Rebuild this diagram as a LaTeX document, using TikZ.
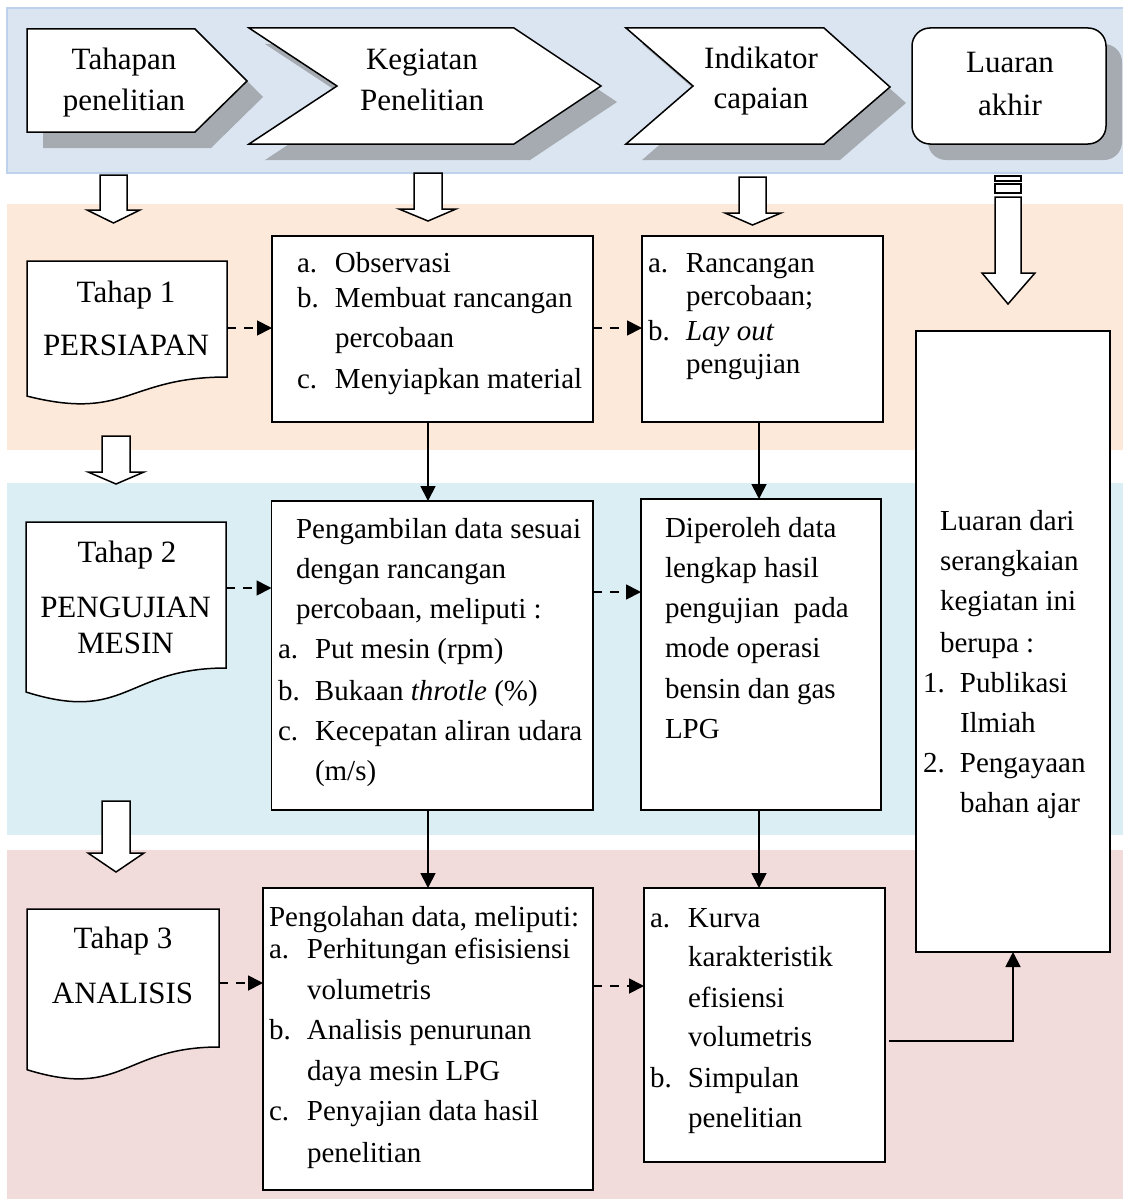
\documentclass[tikz,border=0pt]{standalone}
\usepackage{fontspec}
\setmainfont{Liberation Serif}
\usetikzlibrary{arrows.meta,calc}
\definecolor{bandtop}{RGB}{219,229,241}
\definecolor{bandtopline}{RGB}{190,210,238}
\definecolor{bandpeach}{RGB}{253,233,217}
\definecolor{bandblue}{RGB}{218,238,243}
\definecolor{bandpink}{RGB}{242,220,219}
\definecolor{shadowc}{RGB}{166,170,177}
\newcounter{lnc}
% left-aligned text line at baseline
\newcommand\Ln[3]{\stepcounter{lnc}\node[txt,anchor=base west] (L\arabic{lnc}) at (#1,#2) {#3};}
% centred big text line at baseline
\newcommand\Lc[3]{\stepcounter{lnc}\node[big,anchor=base] (L\arabic{lnc}) at (#1,#2) {#3};}
% list item: label x, text x, baseline, label, text
\newcommand\Li[5]{\stepcounter{lnc}\pgfmathsetlengthmacro\lblw{#2-#1}\node[txt,anchor=base west] (L\arabic{lnc}) at (#1,#3) {\makebox[\lblw][l]{#4}#5};}
% down block arrow: xl xr ytop yhead hxl hxr ytip
\newcommand\DownArrow[7]{\draw[blk] (#1,#3) -- (#2,#3) -- (#2,#4) -- (#6,#4) -- ({(#1+#2)/2},#7) -- (#5,#4) -- (#1,#4) -- cycle;}
\begin{document}
\begin{tikzpicture}[x=1pt,y=-1pt,
  txt/.style={font=\fontsize{29}{35}\selectfont, inner sep=0pt, outer sep=0pt},
  big/.style={font=\fontsize{31}{37}\selectfont, inner sep=0pt, outer sep=0pt},
  box/.style={draw=black, line width=1.8pt, fill=white, inner sep=0pt, outer sep=0pt, anchor=north west},
  ghost/.style={draw=none, inner sep=0pt, outer sep=0pt, anchor=north west},
  blk/.style={draw=black, line width=1.5pt, fill=white, line join=miter},
  hdr/.style={draw=black, line width=1.5pt, fill=white, line join=miter},
  shade/.style={fill=shadowc, draw=none},
  arr/.style={draw=black, line width=1.8pt, -{Triangle[length=15pt,width=15pt]}},
  darr/.style={arr, dash pattern=on 9pt off 8pt},
]
\useasboundingbox (0,0) rectangle (1123,1199);
% bands
\fill[bandtop, draw=bandtopline, line width=1.5pt] (7,8) rectangle (1135,173);
\fill[bandpeach] (7,204) rectangle (1135,450);
\fill[bandblue] (7,483) rectangle (1135,835);
\fill[bandpink] (7,850) rectangle (1135,1210);

% header shapes: shadows
\fill[shade] (43,45) -- (211,45) -- (263,97) -- (211,148) -- (43,148) -- cycle;
\fill[shade] (265,44) -- (530,44) -- (617,102) -- (530,160) -- (265,160) -- (353,102) -- cycle;
\fill[shade] (642,44) -- (840,44) -- (906,103) -- (840,160) -- (642,160) -- (709,102) -- cycle;
\fill[shade, rounded corners=18pt] (928,44) rectangle (1122,160);
% header shapes
\draw[hdr] (27,29) -- (195,29) -- (247,81) -- (195,132) -- (27,132) -- cycle;
\draw[hdr] (249,28) -- (514,28) -- (601,86) -- (514,144) -- (249,144) -- (337,86) -- cycle;
\draw[hdr] (626,28) -- (824,28) -- (890,87) -- (824,144) -- (626,144) -- (693,86) -- cycle;
\draw[hdr, rounded corners=18pt] (912,28) rectangle (1106,144);
\Lc{124}{70}{Tahapan}
\Lc{124}{110}{penelitian}
\Lc{422}{70}{Kegiatan}
\Lc{422}{110}{Penelitian}
\Lc{761}{68}{Indikator}
\Lc{761}{108}{capaian}
\Lc{1010}{73}{Luaran}
\Lc{1010}{115}{akhir}

% block arrows
\DownArrow{100}{127}{175}{210}{87}{140}{223}
\DownArrow{414}{442}{173}{209}{399}{456}{221}
\DownArrow{739}{766}{177}{213}{725}{781}{225}
\DownArrow{102}{130}{436}{472}{88}{144}{484}
\DownArrow{102}{130}{801}{853}{88}{144}{872}
\draw[blk] (995,176) rectangle (1021,181);
\draw[blk] (995,184) rectangle (1021,193);
\DownArrow{995}{1021}{197}{273}{982}{1035}{304}

% document shapes (stages)
\node[ghost, minimum width=200pt, minimum height=116pt] (t1) at (27,261) {};
\draw[blk] (t1.north west) -- (t1.north east) -- (t1.south east)
  .. controls (t1.south) and ($(t1.south)+(0,44.2)$) .. ($(t1.south west)+(0,19.1)$) -- cycle;
\node[ghost, minimum width=200pt, minimum height=146pt] (t2) at (26,522) {};
\draw[blk] (t2.north west) -- (t2.north east) -- (t2.south east)
  .. controls (t2.south) and ($(t2.south)+(0,55.6)$) .. ($(t2.south west)+(0,24)$) -- cycle;
\node[ghost, minimum width=192pt, minimum height=138pt] (t3) at (27,909) {};
\draw[blk] (t3.north west) -- (t3.north east) -- (t3.south east)
  .. controls (t3.south) and ($(t3.south)+(0,52.5)$) .. ($(t3.south west)+(0,22.7)$) -- cycle;
\Lc{126}{302}{Tahap 1}
\Lc{126}{355}{PERSIAPAN}
\Lc{127}{562}{Tahap 2}
\Lc{125.5}{617}{PENGUJIAN}
\Lc{125.5}{653}{MESIN}
\Lc{123}{948}{Tahap 3}
\Lc{122.5}{1003}{ANALISIS}

% boxes
\node[box, minimum width=321pt, minimum height=186pt] (obs) at (272,236) {};
\node[box, minimum width=241pt, minimum height=186pt] (ran) at (642,236) {};
\node[box, minimum width=321.5pt, minimum height=309pt] (peng) at (271.5,501) {};
\node[box, minimum width=240pt, minimum height=311pt] (dip) at (641,499) {};
\node[box, minimum width=194pt, minimum height=621pt] (lua) at (916,331) {};
\node[box, minimum width=330pt, minimum height=302pt] (olah) at (263,888) {};
\node[box, minimum width=241pt, minimum height=274pt] (kur) at (644,888) {};

% box texts
\Li{297}{335}{272}{a.}{Observasi}
\Li{297}{335}{307}{b.}{Membuat rancangan}
\Ln{335}{347}{percobaan}
\Li{297}{335}{388}{c.}{Menyiapkan material}

\Li{648}{686}{272}{a.}{Rancangan}
\Ln{686}{305}{percobaan;}
\Li{648}{686}{340}{b.}{\textit{Lay out}}
\Ln{686}{373}{pengujian}

\Ln{296}{538}{Pengambilan data sesuai}
\Ln{296}{578}{dengan rancangan}
\Ln{296}{618}{percobaan, meliputi :}
\Li{278}{315}{658}{a.}{Put mesin (rpm)}
\Li{278}{315}{700}{b.}{Bukaan \textit{throtle} (\%)}
\Li{278}{315}{740}{c.}{Kecepatan aliran udara}
\Ln{315}{780}{(m/s)}

\Ln{665}{537}{Diperoleh data}
\Ln{665}{577}{lengkap hasil}
\Ln{665}{617}{pengujian\ \ pada}
\Ln{665}{657}{mode operasi}
\Ln{665}{698}{bensin dan gas}
\Ln{665}{738}{LPG}

\Ln{940}{530}{Luaran dari}
\Ln{940}{570}{serangkaian}
\Ln{940}{610}{kegiatan ini}
\Ln{940}{652}{berupa :}
\Li{923}{960}{692}{1.}{Publikasi}
\Ln{960}{732}{Ilmiah}
\Li{923}{960}{772}{2.}{Pengayaan}
\Ln{960}{812}{bahan ajar}

\Ln{269}{926}{Pengolahan data, meliputi:}
\Li{269}{307}{958}{a.}{Perhitungan efisisiensi}
\Ln{307}{999}{volumetris}
\Li{269}{307}{1039}{b.}{Analisis penurunan}
\Ln{307}{1080}{daya mesin LPG}
\Li{269}{307}{1120}{c.}{Penyajian data hasil}
\Ln{307}{1162}{penelitian}

\Li{650}{688}{927}{a.}{Kurva}
\Ln{688}{966}{karakteristik}
\Ln{688}{1007}{efisiensi}
\Ln{688}{1046}{volumetris}
\Li{650}{688}{1087}{b.}{Simpulan}
\Ln{688}{1127}{penelitian}

% dashed connectors
\coordinate (d1) at (0,328);
\coordinate (d2) at (0,588);
\coordinate (d3) at (0,592);
\coordinate (d4) at (0,983);
\coordinate (d5) at (0,986);
\draw[darr] (t1.east |- d1) -- (obs.west |- d1);
\draw[darr] (obs.east |- d1) -- (ran.west |- d1);
\draw[darr] (t2.east |- d2) -- (peng.west |- d2);
\draw[darr] (peng.east |- d3) -- (dip.west |- d3);
\draw[darr] (t3.east |- d4) -- (olah.west |- d4);
\draw[darr] (olah.east |- d5) -- (kur.west |- d5);

% solid connectors
\coordinate (c1) at (428,0);
\coordinate (c2) at (759,0);
\draw[arr] (obs.south -| c1) -- (peng.north -| c1);
\draw[arr] (ran.south -| c2) -- (dip.north -| c2);
\draw[arr] (peng.south -| c1) -- (olah.north -| c1);
\draw[arr] (dip.south -| c2) -- (kur.north -| c2);
\coordinate (k1) at (889,1041);
\draw[arr] (k1) -| (lua.south);
\end{tikzpicture}
\end{document}
